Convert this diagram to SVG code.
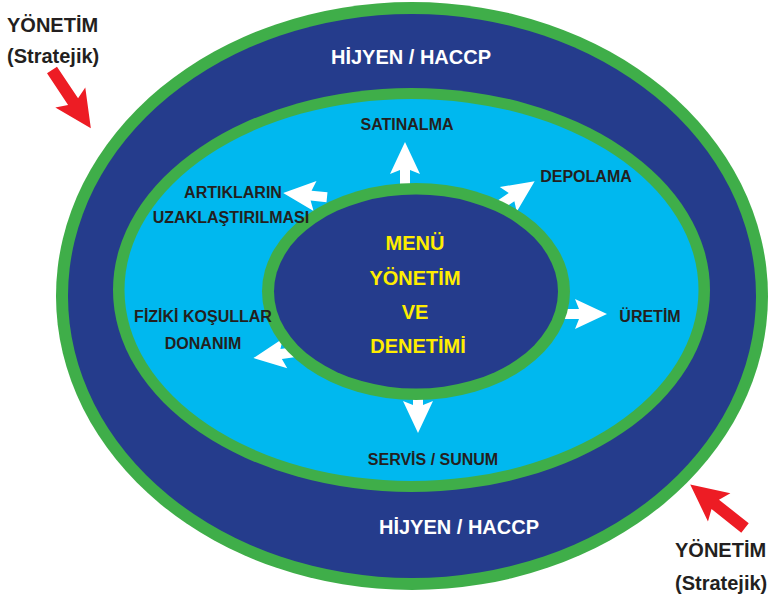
<svg xmlns="http://www.w3.org/2000/svg" xmlns:xlink="http://www.w3.org/1999/xlink" width="768" height="595" viewBox="0 0 768 595">
<style>
.g{fill:#3fae49}
.db{fill:#253c8c}
.lb{fill:#00b8ef}
.lbl{font-family:"Liberation Sans",Arial,sans-serif;font-weight:bold;font-size:16px;fill:#231f20;text-anchor:middle}
.big{font-family:"Liberation Sans",Arial,sans-serif;font-weight:bold;font-size:20px;fill:#ffffff;text-anchor:middle}
.ctr{font-family:"Liberation Sans",Arial,sans-serif;font-weight:bold;font-size:20px;fill:#ffed00;text-anchor:middle}
.mg{font-family:"Liberation Sans",Arial,sans-serif;font-weight:bold;font-size:20px;fill:#231f20}
.wa{fill:#ffffff}
.ra{fill:#ed1c24}
</style>
<defs>
<path id="warr" d="M0,-42 L15,-10 L5,-14 L5,2 L-5,2 L-5,-14 L-15,-10 Z"/>
<path id="rarr" d="M0,-6 L38,-6 L33,-18 L70,0 L33,18 L38,6 L0,6 Z"/>
</defs>
<rect width="768" height="595" fill="#ffffff"/>
<g id="outer-ring">
<ellipse class="g" cx="412" cy="296" rx="356" ry="294"/>
<ellipse class="db" cx="412" cy="296" rx="344" ry="282"/>
<text class="big" x="411" y="64">HİJYEN / HACCP</text>
<text class="big" x="459" y="534">HİJYEN / HACCP</text>
</g>
<g id="middle-ring">
<ellipse class="g" cx="411.5" cy="290" rx="298.5" ry="202"/>
<ellipse class="lb" cx="411.5" cy="290" rx="287" ry="191"/>
</g>
<g id="connectors">
<use href="#warr" class="wa" transform="translate(405,184)"/>
<use href="#warr" class="wa" transform="translate(500,205) rotate(55.6)"/>
<use href="#warr" class="wa" transform="translate(325,197) rotate(-84.4)"/>
<use href="#warr" class="wa" transform="translate(295,352) rotate(-98.3)"/>
<use href="#warr" class="wa" transform="translate(565,314) rotate(90)"/>
<use href="#warr" class="wa" transform="translate(418,391) rotate(180)"/>
</g>
<g id="inner">
<ellipse class="g" cx="416" cy="291.5" rx="154" ry="108.5"/>
<ellipse class="db" cx="416" cy="291.5" rx="142" ry="97"/>
<text class="ctr" x="415" y="250">MENÜ</text>
<text class="ctr" x="415" y="285">YÖNETİM</text>
<text class="ctr" x="415" y="319">VE</text>
<text class="ctr" x="418" y="353">DENETİMİ</text>
</g>
<g id="satinalma"><text class="lbl" x="407" y="130">SATINALMA</text></g>
<g id="depolama"><text class="lbl" x="586" y="182">DEPOLAMA</text></g>
<g id="artiklarin"><text class="lbl" x="233" y="197.5">ARTIKLARIN</text><text class="lbl" x="231" y="223">UZAKLAŞTIRILMASI</text></g>
<g id="fiziki"><text class="lbl" x="203" y="322">FİZİKİ KOŞULLAR</text><text class="lbl" x="203" y="349">DONANIM</text></g>
<g id="uretim"><text class="lbl" x="650" y="322">ÜRETİM</text></g>
<g id="servis"><text class="lbl" x="433" y="465">SERVİS / SUNUM</text></g>
<g id="mgmt-top">
<text class="mg" x="7" y="32">YÖNETİM</text>
<text class="mg" x="7" y="63">(Stratejik)</text>
<use href="#rarr" class="ra" transform="translate(52,70) rotate(56.3)"/>
</g>
<g id="mgmt-bottom">
<text class="mg" x="675" y="557">YÖNETİM</text>
<text class="mg" x="675" y="590">(Stratejik)</text>
<use href="#rarr" class="ra" transform="translate(745,528) rotate(-141.5)"/>
</g>
</svg>
